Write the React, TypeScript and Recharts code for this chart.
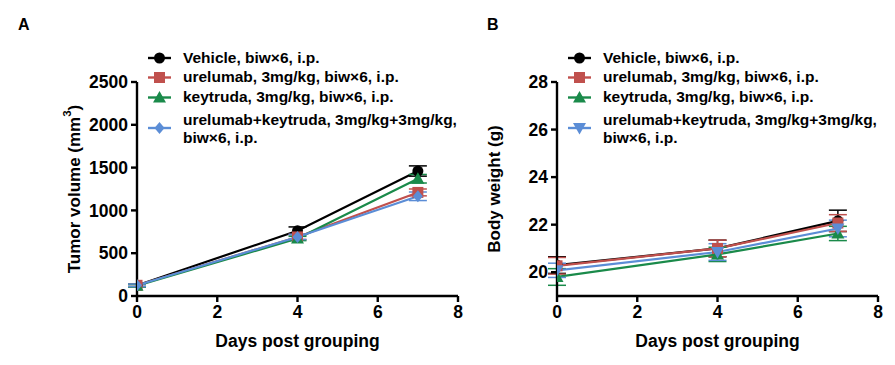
import React from "react";
import { LineChart, Line, XAxis, YAxis, ErrorBar } from "recharts";

const days = [0, 4, 7];

const seriesNames = [
  "Vehicle, biw×6, i.p.",
  "urelumab, 3mg/kg, biw×6, i.p.",
  "keytruda, 3mg/kg, biw×6, i.p.",
  "urelumab+keytruda, 3mg/kg+3mg/kg,|biw×6, i.p.",
];
const seriesColors = ["#000000", "#C0504D", "#1A8A4A", "#5B8DD6"];

// Panel A: tumor volume (mm3)
const tvVehicle = [125, 762, 1460];
const tvVehicleErr = [15, 45, 60];
const tvUrelumab = [125, 690, 1210];
const tvUrelumabErr = [15, 30, 40];
const tvKeytruda = [120, 672, 1370];
const tvKeytrudaErr = [15, 25, 50];
const tvCombo = [125, 690, 1165];
const tvComboErr = [15, 30, 50];

// Panel B: body weight (g)
const bwVehicle = [20.3, 21.0, 22.16];
const bwVehicleErr = [0.35, 0.35, 0.45];
const bwUrelumab = [20.27, 21.0, 22.07];
const bwUrelumabErr = [0.35, 0.35, 0.35];
const bwKeytruda = [19.8, 20.75, 21.63];
const bwKeytrudaErr = [0.35, 0.3, 0.3];
const bwCombo = [20.08, 20.85, 21.84];
const bwComboErr = [0.3, 0.35, 0.35];

const xTicks = [0, 2, 4, 6, 8];
const tvTicks = [0, 500, 1000, 1500, 2000, 2500];
const bwTicks = [20, 22, 24, 26, 28];

const FONT = "'Liberation Sans', Arial, sans-serif";

const tvData = days.map((d, i) => ({
  day: d,
  s0: tvVehicle[i], e0: tvVehicleErr[i],
  s1: tvUrelumab[i], e1: tvUrelumabErr[i],
  s2: tvKeytruda[i], e2: tvKeytrudaErr[i],
  s3: tvCombo[i], e3: tvComboErr[i],
}));
const bwData = days.map((d, i) => ({
  day: d,
  s0: bwVehicle[i], e0: bwVehicleErr[i],
  s1: bwUrelumab[i], e1: bwUrelumabErr[i],
  s2: bwKeytruda[i], e2: bwKeytrudaErr[i],
  s3: bwCombo[i], e3: bwComboErr[i],
}));

type ShapeKind = "circle" | "square" | "triangle" | "diamond" | "down";

function Marker({ cx, cy, kind, color }: { cx: number; cy: number; kind: ShapeKind; color: string }) {
  if (cx == null || cy == null || isNaN(cx) || isNaN(cy)) return null;
  if (kind === "circle") return <circle cx={cx} cy={cy} r={5.5} fill={color} />;
  if (kind === "square") return <rect x={cx - 5.5} y={cy - 5.5} width={11} height={11} fill={color} />;
  if (kind === "triangle")
    return <polygon points={`${cx},${cy - 6.5} ${cx + 6.5},${cy + 5} ${cx - 6.5},${cy + 5}`} fill={color} />;
  if (kind === "down")
    return <polygon points={`${cx},${cy + 6.5} ${cx + 6.5},${cy - 5} ${cx - 6.5},${cy - 5}`} fill={color} />;
  return <polygon points={`${cx},${cy - 6} ${cx + 5},${cy} ${cx},${cy + 6} ${cx - 5},${cy}`} fill={color} />;
}

const W = 480;
const H = 365;
const MARGIN = { top: 82, right: 22, left: 77, bottom: 39 };

function YLabel({ viewBox, text, sup }: any) {
  const cx = 74;
  const cy = viewBox ? viewBox.y + viewBox.height / 2 : 190;
  return (
    <text
      x={cx}
      y={cy}
      transform={`rotate(-90 ${cx} ${cy})`}
      textAnchor="middle"
      dominantBaseline="central"
      fill="#000"
      fontFamily={FONT}
      fontWeight="bold"
      fontSize={17}
    >
      {text}
      {sup ? (
        <>
          <tspan dy={-7} fontSize={11.5}>{sup}</tspan>
          <tspan dy={7}>)</tspan>
        </>
      ) : null}
    </text>
  );
}

function Legend({ shapes, left }: { shapes: ShapeKind[]; left: number }) {
  const rows = [
    { marker: 58, lines: [62.5] },
    { marker: 77.5, lines: [82] },
    { marker: 97.5, lines: [102] },
    { marker: 128, lines: [124.5, 143] },
  ];
  return (
    <svg width={W} height={160} style={{ position: "absolute", left, top: 0 }}>
      {seriesNames.map((name, i) => {
        const r = rows[i];
        const parts = name.split("|");
        return (
          <g key={i}>
            <line x1={148} x2={171} y1={r.marker} y2={r.marker} stroke={seriesColors[i]} strokeWidth={2.4} />
            <Marker cx={159.5} cy={r.marker} kind={shapes[i]} color={seriesColors[i]} />
            {parts.map((p, j) => (
              <text key={j} x={183} y={r.lines[j]} fontFamily={FONT} fontWeight="bold" fontSize={15.5} fill="#000">
                {p}
              </text>
            ))}
          </g>
        );
      })}
    </svg>
  );
}

function Panel({
  data,
  domain,
  ticks,
  label,
  sup,
  shapes,
  left,
}: {
  data: any[];
  domain: [number, number];
  ticks: number[];
  label: string;
  sup?: string;
  shapes: ShapeKind[];
  left: number;
}) {
  const tickStyle = { fill: "#000", fontSize: 17.5, fontWeight: "bold", fontFamily: FONT };
  return (
    <div style={{ position: "absolute", left, top: 0, width: W, height: H }}>
      <LineChart width={W} height={H} data={data} margin={MARGIN}>
        <XAxis
          dataKey="day"
          type="number"
          domain={[0, 8]}
          ticks={xTicks}
          allowDataOverflow
          axisLine={{ stroke: "#000", strokeWidth: 2.4 }}
          tickLine={{ stroke: "#000", strokeWidth: 2.4 }}
          tickSize={6}
          tickMargin={4}
          tick={tickStyle}
          height={30}
          label={{
            value: "Days post grouping",
            position: "insideBottom",
            offset: -21,
            fill: "#000",
            fontSize: 17.5,
            fontWeight: "bold",
            fontFamily: FONT,
          }}
        />
        <YAxis
          type="number"
          domain={domain}
          ticks={ticks}
          allowDataOverflow
          width={60}
          axisLine={{ stroke: "#000", strokeWidth: 2.4 }}
          tickLine={{ stroke: "#000", strokeWidth: 2.4 }}
          tickSize={6}
          tickMargin={3}
          tick={tickStyle}
          label={<YLabel text={label} sup={sup} />}
        />
        {[0, 1, 2, 3].map((i) => (
          <Line
            key={i}
            dataKey={`s${i}`}
            stroke={seriesColors[i]}
            strokeWidth={2.2}
            isAnimationActive={false}
            dot={(p: any) => <Marker key={`d${i}-${p.index}`} cx={p.cx} cy={p.cy} kind={shapes[i]} color={seriesColors[i]} />}
            activeDot={false}
          >
            <ErrorBar dataKey={`e${i}`} width={9} stroke={seriesColors[i]} strokeWidth={1.5} direction="y" />
          </Line>
        ))}
      </LineChart>
      <Legend shapes={shapes} left={0} />
    </div>
  );
}

export default function App() {
  return (
    <div style={{ position: "absolute", left: 0, top: 0, width: 895, height: 365, background: "#fff", overflow: "hidden" }}>
      <Panel
        data={tvData}
        domain={[0, 2500]}
        ticks={tvTicks}
        label="Tumor volume (mm"
        sup="3"
        shapes={["circle", "square", "triangle", "diamond"]}
        left={0}
      />
      <Panel
        data={bwData}
        domain={[19, 28]}
        ticks={bwTicks}
        label="Body weight (g)"
        shapes={["circle", "square", "triangle", "down"]}
        left={420}
      />
      <div style={{ position: "absolute", left: 18, top: 16, fontFamily: FONT, fontWeight: "bold", fontSize: 16 }}>A</div>
      <div style={{ position: "absolute", left: 487, top: 16, fontFamily: FONT, fontWeight: "bold", fontSize: 16 }}>B</div>
    </div>
  );
}
